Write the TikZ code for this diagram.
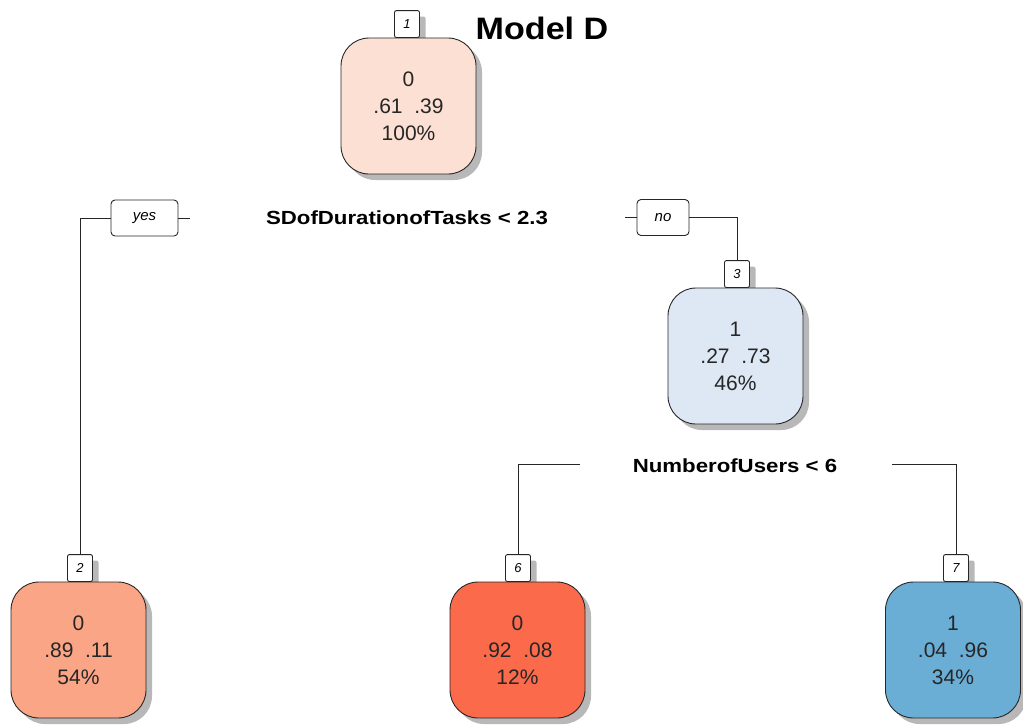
\documentclass[tikz,border=0pt]{standalone}
\usepackage{fontspec}
\setmainfont{Liberation Sans}
\newfontfamily\wideb[FakeStretch=1.17]{Liberation Sans}
\newfontfamily\widet[FakeStretch=1.1]{Liberation Sans}
\usetikzlibrary{shadows}
\definecolor{cA}{HTML}{FCE0D4}
\definecolor{cB}{HTML}{DEE8F5}
\definecolor{cC}{HTML}{FBA587}
\definecolor{cD}{HTML}{FC6A4C}
\definecolor{cE}{HTML}{6AAED6}
\begin{document}
\begin{tikzpicture}[x=1pt,y=-1pt,
  shad/.style={drop shadow={shadow xshift=6pt, shadow yshift=-6pt, fill=black!28, opacity=1}},
  leaf/.style={draw=black!85, line width=0.9pt, rounded corners=28pt, minimum width=135pt, minimum height=136pt, inner sep=0pt, align=center, font=\fontsize{21}{27}\selectfont, text=black!85, shad},
  idx/.style={draw=black!85, line width=0.9pt, rounded corners=2pt, fill=white, minimum width=25pt, minimum height=27pt, inner sep=0pt, font=\itshape\fontsize{13}{13}\selectfont, anchor=south, shad},
  yn/.style={draw=black!85, line width=0.9pt, rounded corners=4pt, fill=white, minimum height=36pt, inner sep=0pt, font=\itshape\fontsize{15}{15}\selectfont},
  split/.style={font=\wideb\bfseries\fontsize{19}{19}\selectfont, inner sep=0pt},
  conn/.style={line width=0.9pt, draw=black!85}]
\useasboundingbox (0,0) rectangle (1023,724);
% index boxes (drawn first so leaves cover their shadows)
\node[idx] (i1) at (407,38) {1};
\node[idx] (i3) at (737,288) {3};
\node[idx] (i2) at (80,582) {2};
\node[idx] (i6) at (518,582) {6};
\node[idx] (i7) at (956,582) {7};
% leaves
\node[leaf, fill=cA] (n1) at (408.5,106) {0\\.61\ \ .39\\100\%};
\node[leaf, fill=cB] (n3) at (735.5,356) {1\\.27\ \ .73\\46\%};
\node[leaf, fill=cC] (n2) at (78.5,650) {0\\.89\ \ .11\\54\%};
\node[leaf, fill=cD] (n6) at (517.5,650) {0\\.92\ \ .08\\12\%};
\node[leaf, fill=cE] (n7) at (953,650) {1\\.04\ \ .96\\34\%};
% title
\node[font=\widet\bfseries\fontsize{31}{31}\selectfont, inner sep=0pt] (title) at (542,28) {Model D};
% splits
\node[split] (s1) at (407,218) {SDofDurationofTasks < 2.3};
\node[split] (s3) at (735,466) {NumberofUsers < 6};
% yes / no
\node[yn, minimum width=67pt] (yes) at (144.5,218) {yes};
\node[yn, minimum width=52pt] (no) at (663,217.5) {no};
\coordinate (ys) at (190,218);
\coordinate (ns) at (625,217.5);
\coordinate (l3) at (580,464);
\coordinate (r3) at (892,464);
% connectors
\draw[conn] (yes.east) -- (ys);
\draw[conn] (yes.west) -| (i2.north);
\draw[conn] (no.west) -- (ns);
\draw[conn] (no.east) -| (i3.north);
\draw[conn] (l3) -| (i6.north);
\draw[conn] (r3) -| (i7.north);
\end{tikzpicture}
\end{document}
